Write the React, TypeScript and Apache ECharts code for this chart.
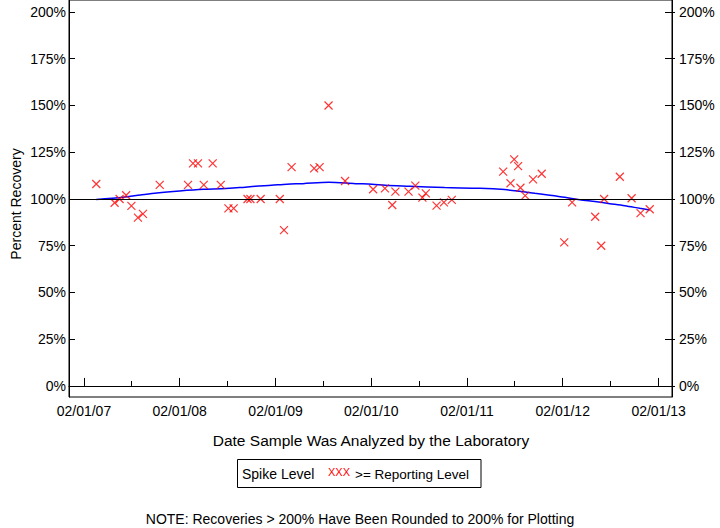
import React, { useEffect, useRef } from "react";
import * as echarts from "echarts";

// ---- Data ----
const sampleDates: string[] = [
  "2007-03-20", "2007-05-29", "2007-06-17", "2007-07-12", "2007-08-01", "2007-08-26",
  "2007-09-14", "2007-11-17", "2008-03-04", "2008-03-23", "2008-04-11", "2008-05-03",
  "2008-06-06", "2008-07-07", "2008-08-05", "2008-08-25", "2008-10-17", "2008-10-28",
  "2008-12-06", "2009-02-17", "2009-03-05", "2009-04-03", "2009-06-28", "2009-07-19",
  "2009-08-22", "2009-10-24", "2010-02-08", "2010-03-25", "2010-04-22", "2010-05-04",
  "2010-06-23", "2010-07-19", "2010-08-15", "2010-08-28", "2010-10-08", "2010-11-05",
  "2010-12-05", "2011-06-19", "2011-07-31", "2011-07-17", "2011-08-15", "2011-08-24",
  "2011-09-11", "2011-10-11", "2011-11-13", "2012-02-07", "2012-03-08", "2012-06-04",
  "2012-07-08", "2012-06-27", "2012-09-06", "2012-10-21", "2012-11-24", "2012-12-29",
];
const recoveries: number[] = [
  108, 98, 100, 102, 96.3, 90,
  92, 107.5, 107.5, 119, 119, 107.5,
  119, 107.5, 95, 95, 100, 100,
  100, 100, 83.3, 117, 116.4, 117,
  150, 109.6, 105.2, 105.7, 96.8, 103.9,
  103.9, 107.1, 100.7, 103, 96.4, 98.2,
  99.5, 114.6, 121.2, 108.4, 117.6, 106,
  101.8, 110.5, 113.5, 76.8, 98.2, 90.5,
  100, 75, 111.9, 100.4, 92.4, 94.5,
];

const trendDates: string[] = [
  "2007-03-20", "2007-06-30", "2007-09-04", "2007-11-06", "2008-02-01", "2008-05-02",
  "2008-07-09", "2008-09-17", "2008-11-16", "2009-01-16", "2009-03-16", "2009-05-16",
  "2009-08-23", "2009-12-02", "2010-02-04", "2010-03-26", "2010-06-28", "2010-11-08",
  "2011-03-22", "2011-06-25", "2011-08-21", "2011-10-18", "2011-12-14", "2012-02-09",
  "2012-04-06", "2012-06-03", "2012-07-30", "2012-09-25", "2012-11-21", "2012-12-29",
];
const trendValues: number[] = [
  99.7, 100.9, 102.1, 103.2, 104.3, 105.2,
  105.5, 106.1, 106.8, 107.3, 107.9, 108.2,
  108.9, 108.2, 107.9, 107.3, 106.8, 106.1,
  105.7, 105.0, 104.1, 103.0, 102.0, 100.9,
  99.6, 98.6, 97.5, 96.4, 95.0, 94.1,
];

const majorTickDates: string[] = [
  "2007-02-01", "2008-02-01", "2009-02-01", "2010-02-01", "2011-02-01", "2012-02-01", "2013-02-01",
];
const minorTickDates: string[] = [
  "2007-08-02", "2008-08-02", "2009-08-02", "2010-08-02", "2011-08-02", "2012-08-02",
];
const yTicks: number[] = [0, 25, 50, 75, 100, 125, 150, 175, 200];

const X_MIN = "2006-12-06";
const X_MAX = "2013-03-24";
const Y_MIN = -5.9;
const Y_MAX = 206.4;

const FONT = "'Liberation Sans', Arial, sans-serif";

const toTs = (s: string) => {
  const [y, m, d] = s.split("-").map(Number);
  return Date.UTC(y, m - 1, d);
};
const pad = (n: number) => (n < 10 ? "0" + n : "" + n);
const fmtDate = (v: number) => {
  const d = new Date(v);
  return `${pad(d.getUTCMonth() + 1)}/${pad(d.getUTCDate())}/${pad(d.getUTCFullYear() % 100)}`;
};

export default function App() {
  const ref = useRef<HTMLDivElement>(null);

  useEffect(() => {
    if (!ref.current) return;
    const chart = echarts.init(ref.current, null, { renderer: "svg" });

    const scatterData = sampleDates.map((d, i) => [toTs(d), recoveries[i]]);
    const trendData = trendDates.map((d, i) => [toTs(d), trendValues[i]]);
    const xMin = toTs(X_MIN);
    const xMax = toTs(X_MAX);
    const majors = majorTickDates.map(toTs);
    const minors = minorTickDates.map(toTs);

    const yBase = {
      type: "value",
      min: Y_MIN,
      max: Y_MAX,
      splitLine: { show: false },
    };

    chart.setOption({
      animation: false,
      backgroundColor: "#ffffff",
      textStyle: { fontFamily: FONT },
      grid: {
        left: 69,
        right: 48,
        top: 0,
        bottom: 131,
        show: true,
        borderColor: "#000",
        borderWidth: 1,
        outerBoundsMode: "none",
        containLabel: false,
      },
      xAxis: [
        {
          type: "value",
          min: xMin,
          max: xMax,
          position: "bottom",
          splitLine: { show: false },
          axisLine: { show: true, lineStyle: { color: "#000", width: 1 } },
          axisTick: {
            show: true,
            inside: true,
            length: 8,
            customValues: majors,
            lineStyle: { color: "#000" },
          },
          axisLabel: {
            show: true,
            customValues: majors,
            formatter: (v: number) => fmtDate(v),
            color: "#000",
            fontSize: 14,
            fontFamily: FONT,
            margin: 7,
          },
        },
        {
          type: "value",
          min: xMin,
          max: xMax,
          position: "bottom",
          splitLine: { show: false },
          axisLine: { show: false },
          axisTick: {
            show: true,
            inside: true,
            length: 5,
            customValues: minors,
            lineStyle: { color: "#000" },
          },
          axisLabel: { show: false },
        },
      ],
      yAxis: [
        {
          ...yBase,
          position: "left",
          axisLine: { show: true, lineStyle: { color: "#000", width: 1 } },
          axisTick: {
            show: true,
            inside: true,
            length: 6,
            customValues: yTicks,
            lineStyle: { color: "#000" },
          },
          axisLabel: {
            customValues: yTicks,
            formatter: "{value}%",
            color: "#000",
            fontSize: 14,
            fontFamily: FONT,
            margin: 3,
          },
        },
        {
          ...yBase,
          position: "right",
          axisLine: { show: true, lineStyle: { color: "#000", width: 1 } },
          axisTick: {
            show: true,
            inside: true,
            length: 7,
            customValues: yTicks,
            lineStyle: { color: "#000" },
          },
          axisLabel: {
            customValues: yTicks,
            formatter: "{value}%",
            color: "#000",
            fontSize: 14,
            fontFamily: FONT,
            margin: 7,
          },
        },
        {
          ...yBase,
          position: "right",
          axisLine: { show: false },
          axisTick: {
            show: true,
            inside: false,
            length: 3,
            customValues: yTicks,
            lineStyle: { color: "#000" },
          },
          axisLabel: { show: false },
        },
      ],
      series: [
        {
          type: "line",
          xAxisIndex: 0,
          yAxisIndex: 0,
          data: trendData,
          smooth: 0.3,
          showSymbol: false,
          symbol: "none",
          lineStyle: { color: "#0000ff", width: 1.5 },
          silent: true,
          z: 3,
          markLine: {
            silent: true,
            symbol: "none",
            label: { show: false },
            lineStyle: { color: "#000", type: "solid", width: 1.2 },
            data: [{ yAxis: 100 }],
          },
        },
        {
          type: "scatter",
          xAxisIndex: 0,
          yAxisIndex: 0,
          data: scatterData,
          symbol: "path://M0,0L10,10M10,0L0,10",
          symbolSize: 8,
          itemStyle: {
            color: "rgba(0,0,0,0)",
            borderColor: "#ff0000",
            borderWidth: 1.2,
          },
          z: 4,
        },
      ],
      graphic: [
        {
          type: "text",
          x: 16,
          y: 204,
          rotation: Math.PI / 2,
          style: {
            text: "Percent Recovery",
            fill: "#000",
            font: `14px ${FONT}`,
            textAlign: "center",
            textVerticalAlign: "middle",
          },
        },
        {
          type: "text",
          x: 371,
          y: 440,
          style: {
            text: "Date Sample Was Analyzed by the Laboratory",
            fill: "#000",
            font: `15.5px ${FONT}`,
            textAlign: "center",
            textVerticalAlign: "middle",
          },
        },
        {
          type: "rect",
          shape: { x: 237.5, y: 459.5, width: 243.5, height: 28 },
          style: { fill: "#fff", stroke: "#000", lineWidth: 1 },
        },
        {
          type: "text",
          x: 242,
          y: 474,
          style: {
            text: "Spike Level",
            fill: "#000",
            font: `14px ${FONT}`,
            textAlign: "left",
            textVerticalAlign: "middle",
          },
        },
        {
          type: "text",
          x: 328,
          y: 472,
          style: {
            text: "XXX",
            fill: "#ff0000",
            font: `11px ${FONT}`,
            textAlign: "left",
            textVerticalAlign: "middle",
          },
        },
        {
          type: "text",
          x: 355,
          y: 474,
          style: {
            text: ">= Reporting Level",
            fill: "#000",
            font: `13.5px ${FONT}`,
            textAlign: "left",
            textVerticalAlign: "middle",
          },
        },
        {
          type: "text",
          x: 360,
          y: 519,
          style: {
            text: "NOTE: Recoveries > 200% Have Been Rounded to 200% for Plotting",
            fill: "#000",
            font: `14px ${FONT}`,
            textAlign: "center",
            textVerticalAlign: "middle",
          },
        },
      ],
    });

    return () => chart.dispose();
  }, []);

  return (
    <div
      ref={ref}
      style={{ position: "fixed", left: 0, top: 0, width: 720, height: 528, background: "#fff" }}
    />
  );
}
